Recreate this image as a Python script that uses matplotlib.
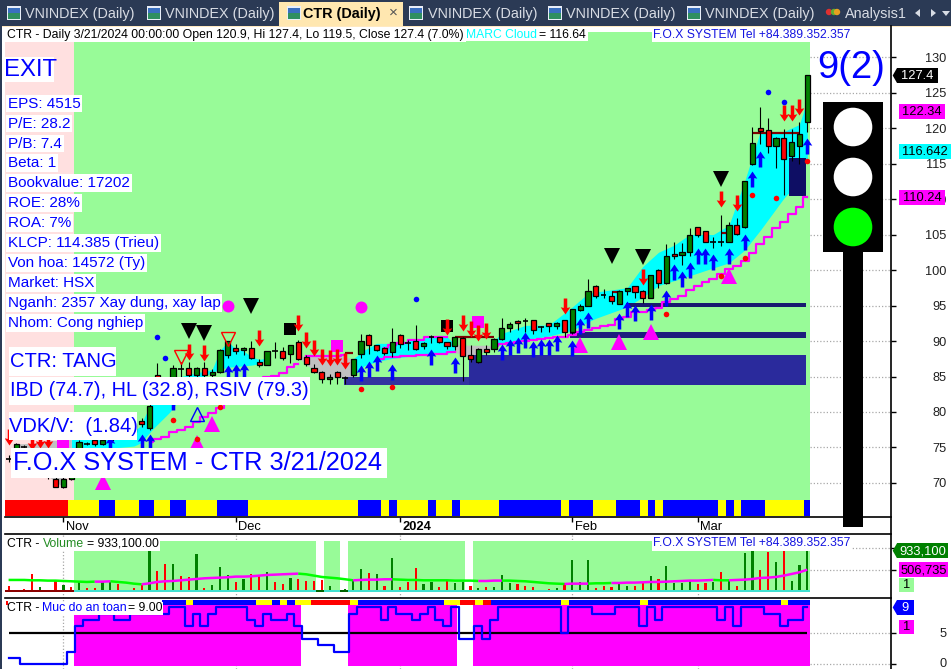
import numpy as np
import matplotlib
matplotlib.use("Agg")
import matplotlib.pyplot as plt
from matplotlib.patches import Rectangle, Circle, Polygon
from matplotlib.path import Path
from matplotlib.transforms import ScaledTranslation

plt.rcParams['font.family'] = ['Liberation Sans', 'DejaVu Sans']

W, H = 951, 669
N_BARS = 103
# ---------- price data, index 0 = newest bar, counting back ----------
open_back = [120.9,117.5,116.1,118.55,117.5,119.7,119.95,115.0,106.0,106.4,
 104.0,104.0,104.0,105.45,106.0,102.5,102.15,102.2,98.1,99.95,
 96.1,97.0,97.7,97.1,95.25,96.4,96.5,97.8,95.0,94.4,
 91.2,92.9,92.15,92.5,91.95,92.9,92.8,92.8,91.9,90.3,
 88.9,88.9,87.1,87.97,90.37,89.3,89.8,90.5,90.6,89.34,
 89.95,89.7,90.9,88.4,88.97,89.4,90.9,88.17,85.25,84.85,
 85.7,84.7,85.7,86.15,87.7,89.8,88.2,88.55,88.55,86.65,
 87.1,88.97,88.68,89.06,87.98,85.68,85.2,86.15,85.2,86.15,
 86.0,84.8,83.0,85.2,77.7,78.73,77.2,76.8,76.5,76.0,
 75.5,76.05,75.5,74.0,70.6,69.4,70.56,72.5,73.5,74.0,
 75.0,74.6,73.4]
close_back = [127.4,119.1,118.0,115.7,118.55,117.5,119.6,117.85,112.5,105.1,
 106.3,104.0,104.0,104.0,105.0,105.0,102.5,102.0,102.0,98.1,
 99.25,96.0,96.95,97.4,97.1,95.7,96.5,96.4,97.0,95.0,
 94.45,91.2,92.6,92.15,91.95,91.5,92.8,92.6,92.35,91.9,
 90.35,88.4,88.9,87.5,87.9,90.5,89.35,89.8,90.6,89.67,
 88.9,89.7,89.6,89.8,88.26,88.8,89.5,89.95,87.4,84.85,
 84.98,84.97,84.7,85.7,86.7,87.4,89.4,87.65,88.55,88.55,
 86.65,87.65,88.97,88.63,89.95,88.68,85.7,85.2,86.15,85.2,
 86.0,86.15,84.5,83.0,80.85,78.26,78.3,77.2,76.8,76.5,
 76.05,75.5,75.5,75.8,72.0,70.56,69.5,71.0,72.5,73.5,
 75.0,75.5,73.4]
high_back = [127.4,120.9,119.8,119.8,118.8,121.4,122.9,120.1,112.6,107.3,
 106.8,107.75,104.7,105.5,106.1,105.9,103.75,104.0,103.7,100.1,
 99.3,97.2,97.8,97.5,97.2,97.0,97.3,97.9,98.7,95.2,
 94.5,93.0,92.7,92.6,92.1,93.0,93.2,92.9,92.7,93.3,
 90.4,89.5,89.0,89.4,90.5,90.6,89.9,90.6,90.85,89.9,
 92.25,90.2,91.0,91.8,89.2,89.5,91.0,91.0,87.5,85.1,
 85.8,85.3,85.8,86.8,88.0,90.2,89.5,89.2,89.9,88.6,
 87.5,90.0,89.1,89.6,90.0,88.9,86.0,87.0,86.3,87.0,
 87.0,86.6,84.8,86.85,81.5,79.1,78.5,77.5,77.0,76.7,
 76.3,76.3,75.8,76.0,72.4,70.8,70.8,72.8,73.7,74.5,
 75.3,75.7,73.9]
low_back = [119.5,115.0,115.4,110.6,114.4,116.5,117.75,114.8,105.9,105.0,
 103.9,103.4,103.15,103.9,104.7,102.0,100.7,101.6,98.0,97.4,
 96.0,95.3,96.0,96.5,95.2,95.2,96.0,96.1,94.9,94.2,
 91.0,90.6,91.7,91.3,91.3,91.0,91.25,91.55,91.3,90.2,
 88.5,88.0,86.85,87.0,84.3,88.7,88.9,89.7,89.75,88.9,
 88.8,88.75,89.0,87.7,88.0,88.6,88.2,87.55,84.9,84.0,
 84.0,84.0,84.1,85.5,86.5,87.3,86.9,87.3,87.6,86.6,
 86.4,87.4,88.0,88.2,87.6,85.5,85.0,85.0,85.0,85.0,
 84.5,84.5,82.8,82.0,77.5,77.9,77.0,76.6,76.2,75.9,
 75.3,75.2,75.3,73.5,70.4,69.3,69.4,70.6,72.0,73.2,
 74.6,74.0,73.0]

# Cloud sections: bars back, upper, lower
cyan_a_back = [0,1,3,6,8,10,12,15,17,19,21,23,25,27,28,30,33,36,39,40]
cyan_a_up = [124,120.5,119.5,119.5,112.5,106.3,105,105,103.5,102.5,100.5,97.5,97.2,96.9,96.7,94.8,92.25,92.2,91.07,90.1]
cyan_a_lo = [115.7,112.5,110.1,105.6,102.8,101,100.3,99.2,98.5,97.8,96.2,94.8,94,93.2,92.7,91.5,90.7,90.2,89.5,89.2]
gray_a_back = [40,41,43,45]
gray_a_up = [89.3,89.4,89.4,89.5]
gray_a_lo = [89.2,88.7,87.6,88.4]
cyan_b_back = [45,46,48,50.5,53,55,56.6,58]
cyan_b_up = [89.5,90.6,90.6,90.1,89.67,89.67,88.7,87.5]
cyan_b_lo = [88.4,88.3,88,87.9,87.55,87.1,86.5,85]
gray_b_back = [58,60,62,63,64,65]
gray_b_up = [87.5,87.9,87.9,87.9,87.9,87.9]
gray_b_lo = [85,84.8,84.9,85.8,86.7,87.7]
cyan_c_back = [69,70,71,72,73,74,75,76,78,80,81.4,83.5,85.2,86,88,94]
cyan_c_up = [87.6,87.4,87.8,88.6,88.9,89.9,88.7,86,85.5,85,84,82,78,77.3,76.8,76.5]
cyan_c_lo = [87.5,86.8,86.6,86.5,86.4,86.3,86,85.6,84.5,82,80,77.7,75.6,75.2,75.0,74.6]
gray_c_back = [94,95,97,99,101]
gray_c_up = [76.5,76,76,75.6,75.5]
gray_c_lo = [74.6,69.4,71,73.5,74.2]

# Support stair lines
stair1_back = list(range(0, 41))
stair1 = [110.3,108.9,107.85,106.7,105.9,104.7,103.66,102.4,101.3,100.6,100.15,99.4,98.8,98.35,97.8,97.15,96.3,95.9,95.5,
          94.7,94.4,94.1,94.1,93.4,93.05,92.25,92.1,91.8,91.55,91.3,90.85,90.6,90.5,90.4,90.25,90.15,90,89.8,89.7,89.6,89.3]
stair2_back = [45,47,49,51,53,55]
stair2 = [88.4,88.2,88,87.9,87.7,87.5]
stair3_back = [46,48,50,52,53,54]
stair3 = [90.6,90.5,90.1,89.7,89.4,88.97]
stair4_back = [59,60,61,62,63,64]
stair4 = [88.0,87.9,87.9,87.9,87.9,87.9]
stair5_back = [65,66,67,68,69,70,71,72,73,74,75,76,77,78,79,80,81,82,83,84]
stair5 = [86.7,86.3,85.5,85.1,85,84.5,83.5,83,82.5,81.5,80.5,79.9,79.3,78.6,77.9,77.5,77.2,76.5,76.2,75.8]

# Signal marks: bars back, price
arrow_up_back = [0,6,7,8,10,12,13,14,15,16,17,18,20,22,23,24,28,29,30,32,33,34,35,36,37,38,39,45,48,53,55,56,57,72,73,74,81,84,85,89]
arrow_up = [117.5,115.7,112.8,103.9,102,101.1,102,102,99.95,98.7,99.7,96,94.1,94,94.45,92.85,92.95,92.15,88.97,89.7,89.2,89.2,88.9,90.2,89.5,89.2,88.4,86.67,87.7,85.7,86.85,86.1,85.45,85.8,85.7,85.5,81.45,75.8,75.8,75.5]
arrow_dn_back = [1,2,3,9,11,21,31,41,42,43,44,46,59,60,61,62,63,64,65,70,77,79,97,98,99,102]
arrow_dn = [123,122.1,122.1,109.5,110,99.05,95,91.35,91.15,91.65,92.5,92,87.15,87.8,87.55,87.8,88.96,90.2,92.5,90.4,88.26,88.5,76,76,75.8,76.5]
black_tri_back = [11,21,25,71,77,79]
black_tri = [112.8,101.9,101.97,95,91.1,91.35]
red_hollow_back = [74,80]
red_hollow = [90.3,87.7]
blue_hollow_back = [78]
blue_hollow = [79.7]
magenta_tri_back = [10,20,24,29,76,78,90]
magenta_tri = [99.15,91.2,89.85,89.4,78.3,75.6,70.2]
magenta_sq_back = [42,60,95]
magenta_sq = [92.67,89.3,75.35]
magenta_dot_back = [57,74]
magenta_dot = [94.85,95]
black_sq_back = [46,66]
black_sq = [92.1,91.7]
red_dot_back = [0,4,7,8,11,18,53,57,75,78,81]
red_dot = [115.4,110.2,110.6,101.75,99.2,93.85,83.5,83.3,80.65,76.2,78.9]
blue_dot_back = [3,5,50,82,83]
blue_dot = [123.6,125.1,95.9,87.65,90.6]
brown_from_back = [1,10,24,40,58]
brown_to_back = [7,11,25,45,59]
brown_price = [119.35,105.25,96.95,90.6,88.3]

# Support blocks in bar position / price
block_left = [42.87,58.8,71.7,78.85,99.67]
block_right = [58.8,101.84,101.84,101.84,101.84]
block_top = [85.0,88.0,91.3,95.4,115.8]
block_bottom = [83.8,83.8,90.4,94.8,110.4]
block_colors = ['#3333a0','#2a2a9c','#1e1e7d','#191970','#0e0e64']

# Colour band under prices
band_starts = [0,8,12,14,17,19,21,23,27,31,45,48,49,50,54,55,57,58,63,71,72,75,78,81,82,83,84,91,92,93,94,97,102]
band_colors = ['r','y','b','y','b','y','b','y','b','y','b','y','b','y','b','y','b','y','b','y','b','y','b','y','b','y','b','y','b','y','b','y','b']

# Volume (thousands)
volume = [142,52,67,411,120,52,247,157,112,247,
 97,97,247,232,187,30,97,157,927,479,
 636,636,366,344,860,90,164,568,389,232,
 299,404,389,456,232,187,322,299,262,254,
 277,142,52,67,277,523,434,411,142,770,
 120,232,546,187,232,120,277,209,232,142,
 90,127,120,389,217,187,150,120,52,75,
 97,202,725,232,725,97,142,120,232,142,
 142,232,366,299,591,209,209,277,187,209,
 232,456,277,142,882,927,501,905,680,927,
 254,613,933.1]
volume_kind = ("rrrrgrrgrg" "rrggrrrrgr" "rgrrgrgggr" "grrgrrgrrr" "rgrgggrgrg"
               "rrrggrrggr" "grgggrrrrr" "grgggrrrgg" "rrgrggggrr" "grgrggrrgr" "ggg")
volume_ma = [277,277,277,269,269,262,262,254,247,239,
 232,239,239,247,232,217,194,179,202,232,
 247,254,269,284,299,314,322,329,337,352,
 352,359,374,389,396,404,411,419,404,374,
 344,329,314,292,269,277,284,284,292,292,
 284,277,277,269,269,269,269,262,262,262,
 254,254,262,262,262,254,247,232,217,202,
 194,187,194,194,194,202,202,209,209,217,
 217,224,232,232,239,247,254,262,262,269,
 277,269,269,277,284,299,322,329,344,374,
 411,449,507]
ma_run_starts = [0,11,13,17,37,44,49,60,63,71,74,77,90,92]
ma_run_kind = ['g','m','g','m','g','m','g','m','g','m','g','m','g','m']

# Safety level, run starts and values
safety_starts = [0,2,8,9,10,12,14,16,21,23,24,25,26,27,31,32,33,34,36,37,38,40,42,44,45,48,49,50,52,53,54,55,56,57,58,60,61,62,63,71,72,75,78,81,82,83,84,91,92,93,94,97,99,100,102]
safety_levels = [1,0,2,6,7,8,7,8,9,6,8,6,8,9,7,6,8,7,8,6,4,3,2,8,9,7,9,8,7,8,9,7,6,9,4,6,4,7,9,5,9,8,9,6,9,7,9,7,9,6,9,8,6,7,9]
safety_band_starts = [20,23,24,32,34,35,36,37,39,44,45,56,58,60,61,62,71,72,81,82,99,100]
safety_band_colors = ['b','y','b','y','b','y','b','y','r','y','b','y','r','y','r','b','y','b','y','b','y','b']

price_ticks = [130,125,120,115,110,105,100,95,90,85,80,75,70]
month_ticks = [7,29,50,72,88]
month_labels = ['Nov','Dec','2024','Feb','Mar']

info_lines = ['EPS: 4515','P/E: 28.2','P/B: 7.4','Beta: 1','Bookvalue: 17202','ROE: 28%','ROA: 7%',
              'KLCP: 114.385 (Trieu)','Von hoa: 14572 (Ty)','Market: HSX','Nganh: 2357 Xay dung, xay lap','Nhom: Cong nghiep']
tabs = ['VNINDEX (Daily)','VNINDEX (Daily)','CTR (Daily)','VNINDEX (Daily)','VNINDEX (Daily)','VNINDEX (Daily)','Analysis1']

# ---------- layout ----------
BG_GREEN = '#98fb98'; PINK = '#ffe0e0'; MAG = '#ff00ff'; BLUE = '#0000ff'
PAL = {'r':'#ff0000','y':'#ffff00','b':'#0000ff'}
X0, XR = 5, 891
PX_PER_BAR, PX_BAR0 = 7.83, 8.6
XLIM = ((X0-PX_BAR0)/PX_PER_BAR, (XR-PX_BAR0)/PX_PER_BAR)
GRID_END = (810-PX_BAR0)/PX_PER_BAR

def back(lst):
    return 102-np.asarray(lst, dtype=float)

fig = plt.figure(figsize=(W/100, H/100), dpi=100, facecolor='white')

def pane(y0, y1, z):
    ax = fig.add_axes([X0/W, 1-y1/H, (XR-X0)/W, (y1-y0)/H], zorder=z)
    ax.set_xlim(*XLIM)
    ax.patch.set_alpha(0)
    for s in ax.spines.values():
        s.set_visible(False)
    ax.yaxis.tick_right()
    ax.set_axisbelow(True)
    return ax

main = pane(26, 517, 3)
vol = pane(534, 598, 2)
safe = pane(598, 669, 2)

GRID = dict(color='#a8a8a8', lw=0.9, ls=(0, (1, 1.6)))

def right_grid(ax, ticks):
    ax.hlines(ticks, GRID_END, XLIM[1], zorder=0.5, **{'color': GRID['color'], 'lw': GRID['lw'], 'linestyles': [GRID['ls']]})

def top_bottom_dots(ax):
    ax.xaxis.grid(True, **GRID)

# ---------- main pane ----------
main.set_ylim(65.21, 134.37)
TOPP, BANDT, BANDB = 133.52, 67.6, 65.35
main.add_patch(Rectangle((XLIM[0], BANDT), 8.35-XLIM[0], TOPP-BANDT, fc=PINK, ec='none', zorder=1))
main.add_patch(Rectangle((8.35, BANDT), GRID_END-8.35, TOPP-BANDT, fc=BG_GREEN, ec='none', zorder=1))
edges = [XLIM[0]] + [s-0.4 for s in band_starts[1:]] + [GRID_END]
for a, b, c in zip(edges[:-1], edges[1:], band_colors):
    main.add_patch(Rectangle((a, BANDB), b-a, BANDT-BANDB, fc=PAL[c], ec='none', zorder=1.5))

for bk, up, lo, col in [(cyan_a_back,cyan_a_up,cyan_a_lo,'#00ffff'),(gray_a_back,gray_a_up,gray_a_lo,'#c0c0c0'),
                        (cyan_b_back,cyan_b_up,cyan_b_lo,'#00ffff'),(gray_b_back,gray_b_up,gray_b_lo,'#c0c0c0'),
                        (cyan_c_back,cyan_c_up,cyan_c_lo,'#00ffff'),(gray_c_back,gray_c_up,gray_c_lo,'#c0c0c0')]:
    main.fill_between(back(bk), up, lo, color=col, lw=0, zorder=2)

for l, r, t, b, c in zip(block_left, block_right, block_top, block_bottom, block_colors):
    main.add_patch(Rectangle((l, b), r-l, t-b, fc=c, ec='none', zorder=2.5))

for bk, v in [(stair1_back,stair1),(stair2_back,stair2),(stair3_back,stair3),(stair4_back,stair4),(stair5_back,stair5)]:
    main.step(back(bk), v, where='mid', color=MAG, lw=1.6, zorder=3)
for a, b, p in zip(brown_from_back, brown_to_back, brown_price):
    main.plot(back([a, b]), [p, p], color='#800000', lw=1.6, zorder=3.2, solid_capstyle='butt')

# candles
xs = 102-np.arange(N_BARS)
main.vlines(xs, low_back, high_back, color='black', lw=0.8, zorder=4)
for x, o, c in zip(xs, open_back, close_back):
    if abs(o-c) < 0.12:
        main.plot([x-0.36, x+0.36], [c, c], color='black', lw=1.2, zorder=4.2, solid_capstyle='butt')
    else:
        main.bar(x, abs(c-o), bottom=min(o, c), width=0.66, fc='#008000' if c > o else '#ff0000',
                 ec='black', lw=0.9, zorder=4.2)

# signal marks
up_path = Path([(0,1),(0.6,0.1),(0.22,0.18),(0.22,-1),(-0.22,-1),(-0.22,0.18),(-0.6,0.1),(0,1)], closed=True)
dn_path = Path([(0,-1),(0.6,-0.1),(0.22,-0.18),(0.22,1),(-0.22,1),(-0.22,-0.18),(-0.6,-0.1),(0,-1)], closed=True)
main.plot(back(arrow_up_back), arrow_up, ls='', marker=up_path, ms=11.5, mfc=BLUE, mew=0, zorder=5)
main.plot(back(arrow_dn_back), arrow_dn, ls='', marker=dn_path, ms=11.5, mfc='#ff0000', mew=0, zorder=5)
main.plot(back(black_tri_back), black_tri, ls='', marker='v', ms=11, mfc='black', mew=0, zorder=5)
main.plot(back(red_hollow_back), red_hollow, ls='', marker='v', ms=9.5, mfc='none', mec='#ff0000', mew=1, zorder=5)
main.plot(back(blue_hollow_back), blue_hollow, ls='', marker='^', ms=9.5, mfc='none', mec=BLUE, mew=1, zorder=5)
main.plot(back(magenta_tri_back), magenta_tri, ls='', marker='^', ms=11, mfc=MAG, mew=0, zorder=4.6)
main.plot(back(magenta_sq_back), magenta_sq, ls='', marker='s', ms=8.6, mfc=MAG, mew=0, zorder=4.1)
main.plot(back(magenta_dot_back), magenta_dot, ls='', marker='o', ms=8.6, mfc=MAG, mew=0, zorder=4.1)
main.plot(back(black_sq_back), black_sq, ls='', marker='s', ms=8.6, mfc='black', mew=0, zorder=4.1)
main.plot(back(red_dot_back), red_dot, ls='', marker='o', ms=4, mfc='#ff0000', mew=0, zorder=5)
main.plot(back(blue_dot_back), blue_dot, ls='', marker='o', ms=4, mfc=BLUE, mew=0, zorder=5)

main.set_yticks(price_ticks)
main.set_yticklabels([str(t) for t in price_ticks], ha='right', fontsize=9.2, color='#202020')
main.tick_params(axis='y', length=3.6, width=1, pad=36.4, color='black')
right_grid(main, price_ticks)
main.set_xticks(month_ticks)
main.set_xticklabels(month_labels, ha='left', fontsize=9.3)
main.get_xticklabels()[2].set_fontweight('bold')
main.tick_params(axis='x', length=3.6, width=1, pad=0)
for lab in main.get_xticklabels():
    lab.set_transform(lab.get_transform() + ScaledTranslation(2/72, 1/72, fig.dpi_scale_trans))
main.spines['bottom'].set_visible(True)
main.spines['bottom'].set_linewidth(1.2)

# ---------- volume pane ----------
vol.set_ylim(-128, 1308)
VT, VS = 1150, 52
for a, b in [(8.35,39.26),(40.28,42.32),(43.34,58.29),(59.31,GRID_END)]:
    vol.add_patch(Rectangle((a, 0), b-a, VT, fc=BG_GREEN, ec='none', zorder=1))
ix = np.arange(N_BARS)
vcol = ['#008000' if k == 'g' else '#ff0000' for k in volume_kind]
vol.bar(ix, volume, width=0.28, color=vcol, lw=0, zorder=2)
for a, b, c in [(XLIM[0],8.35,'#8b0000'),(8.35,39.26,'#40e0d0'),(39.26,40.28,'#006400'),(40.28,42.32,'#40e0d0'),
                (42.32,43.34,'#006400'),(43.34,GRID_END,'#40e0d0')]:
    vol.add_patch(Rectangle((a, 0), b-a, VS, fc=c, ec='none', zorder=3))
ma_ends = ma_run_starts[1:] + [N_BARS-1]
for s, e, k in zip(ma_run_starts, ma_ends, ma_run_kind):
    vol.plot(ix[s:e+1], volume_ma[s:e+1], color=MAG if k == 'm' else '#00ff00', lw=1.8, zorder=4, solid_capstyle='butt')
vol.set_yticks([500, 1000])
vol.set_yticklabels(['', ''])
vol.tick_params(axis='y', length=3.6, width=1)
right_grid(vol, [500, 1000])
vol.set_xticks(month_ticks)
vol.set_xticklabels([])
vol.tick_params(axis='x', length=0)
top_bottom_dots(vol)
vol.spines['top'].set_visible(True)
vol.spines['top'].set_linewidth(1.2)
vol.spines['bottom'].set_visible(True)
vol.spines['bottom'].set_linewidth(1.2)

# ---------- safety pane ----------
safe.set_ylim(-0.74, 10.49)
for a, b in [(8.35,37.34),(43.34,57.27),(59.31,GRID_END)]:
    safe.add_patch(Rectangle((a, -0.27), b-a, 9.65, fc=MAG, ec='none', zorder=1))
ends = [s-0.4 for s in safety_band_starts[1:]] + [GRID_END]
for a, b, c in zip(safety_band_starts, ends, safety_band_colors):
    safe.add_patch(Rectangle((a-0.4, 9.38), b-a+0.4, 0.79, fc=PAL[c], ec='none', zorder=1.5))
safe.plot([0, 102], [5, 5], color='black', lw=1.6, zorder=2, solid_capstyle='butt')
level = np.repeat(safety_levels, np.diff(safety_starts+[N_BARS]))
safe.step(ix, level, where='mid', color=BLUE, lw=1.6, zorder=3)
safe.set_yticks([0, 5])
safe.set_yticklabels(['0', '5'], ha='right', fontsize=9.2, color='#202020')
safe.tick_params(axis='y', length=3.6, width=1, pad=36.4)
right_grid(safe, [0, 5])
zero_lab = safe.get_yticklabels()[0]
zero_lab.set_transform(zero_lab.get_transform() + ScaledTranslation(0, 1.5/72, fig.dpi_scale_trans))
safe.set_xticks(month_ticks)
safe.set_xticklabels([])
safe.tick_params(axis='x', length=0)
top_bottom_dots(safe)

# ---------- overlay in pixel coordinates ----------
fig.canvas.draw()
ov = fig.add_axes([0, 0, 1, 1], zorder=10)
ov.set_xlim(0, W); ov.set_ylim(H, 0); ov.axis('off'); ov.patch.set_alpha(0)

def py(ax, val):
    return H-ax.transData.transform((0, val))[1]

def box(x0, y0, x1, y1, fc, z=1):
    ov.add_patch(Rectangle((x0, y0), x1-x0, y1-y0, fc=fc, ec='none', zorder=z))

# chrome
DARK = '#2b3a55'
box(0, 0, W, 26, DARK, 1)
box(0, 26, 2, H, DARK, 1)
box(2, 26, W, 27, '#ffe9c0', 1)
box(279, 2, 403, 26, '#ffe7b0', 1.5)
tab_x = [25,165,303,428,566,705,845]
icon_x = [7,147,287,409,548,687]
for x, t in zip(tab_x, tabs):
    active = t.startswith('CTR')
    ov.text(x, 14, t, fontsize=10.4, color='black' if active else '#d8dce4', fontweight='bold' if active else 'normal',
            va='center', ha='left', zorder=3)
for x in icon_x:
    box(x, 6, x+14, 20, '#e8eef8', 2)
    box(x+1, 13, x+13, 19, '#2f8f60', 2.1)
    box(x+1, 8, x+13, 13, '#3a6fc0', 2.1)
ov.text(393, 12.5, '\u00d7', fontsize=11, color='#555555', ha='center', va='center', zorder=3)
for x, c in [(829,'#e03030'),(834,'#60b030'),(837,'#e8a020')]:
    ov.add_patch(Circle((x, 12), 3.2, fc=c, ec='none', zorder=2))
ov.add_patch(Polygon([(915,13),(920,9),(920,17)], fc='#d8dce4', ec='none', zorder=2))
ov.add_patch(Polygon([(936,13),(931,9),(931,17)], fc='#d8dce4', ec='none', zorder=2))
ov.add_patch(Polygon([(942,11),(950,11),(946,16)], fc='#d8dce4', ec='none', zorder=2))

# right axis line
ov.plot([XR, XR], [26, H], color='black', lw=1.2, zorder=1)

# traffic light
box(843, 250, 863, 527, 'black', 4)
box(823, 102, 883, 252, 'black', 4)
for cy, c in [(127,'white'),(177,'white'),(227,'#00ff00')]:
    ov.add_patch(Circle((853, cy), 19.3, fc=c, ec='none', zorder=5))
ov.text(851, 68, '9(2)', fontsize=27.5, color=BLUE, ha='center', va='center', zorder=6)

# labels
def label(x, y, t, fs, color=BLUE, pad=1.2, ha='left'):
    return ov.text(x, y, t, fontsize=fs, color=color, ha=ha, va='center', zorder=7,
                   bbox=dict(fc='white', ec='none', pad=pad))

def big_label(x, x0, x1, y0, y1, t, fs):
    box(x0, y0, x1, y1, 'white', 6)
    ov.text(x, (y0+y1)/2, t, fontsize=fs, color=BLUE, ha='left', va='center', zorder=7)

box(4, 57, 54, 82, 'white', 6)
ov.text(4.5, 69.5, 'EXIT', fontsize=17.2, color=BLUE, ha='left', va='center', zorder=7)
info_y = [103.5,123.5,143.5,163,183,203,223,243,263,283,303,323]
for y, t in zip(info_y, info_lines):
    label(8, y, t, 11)
big_label(9.5, 9, 116, 347, 376, 'CTR: TANG', 14.5)
big_label(10, 9, 310, 377, 405, 'IBD (74.7), HL (32.8), RSIV (79.3)', 14.3)
big_label(9, 8.5, 137, 412, 440, 'VDK/V:  (1.84)', 14.5)
big_label(13, 11, 387, 448, 478, 'F.O.X SYSTEM - CTR 3/21/2024', 18.3)

HDR = 8.85
box(5, 27, 466, 42, 'white', 6)
ov.text(7, 34.8, 'CTR - Daily 3/21/2024 00:00:00 Open 120.9, Hi 127.4, Lo 119.5, Close 127.4 (7.0%)', fontsize=HDR,
        ha='left', va='center', zorder=7)
box(466, 29.5, 588, 41, 'white', 6)
ov.text(466.5, 34.8, 'MARC Cloud', fontsize=8.7, color='#00ffff', ha='left', va='center', zorder=7)
ov.text(539, 34.8, '= 116.64', fontsize=HDR, ha='left', va='center', zorder=7)
label(653, 34.8, 'F.O.X SYSTEM Tel +84.389.352.357', 8.7, color='#1414e0', pad=1)
label(653, 543.3, 'F.O.X SYSTEM Tel +84.389.352.357', 8.7, color='#1414e0', pad=1)

box(5, 538, 160, 551, 'white', 6)
ov.text(7, 543.8, 'CTR - ', fontsize=HDR, ha='left', va='center', zorder=7)
ov.text(42.5, 543.8, 'Volume', fontsize=HDR, color='#228b22', ha='left', va='center', zorder=7)
ov.text(87, 543.8, '= 933,100.00', fontsize=HDR, ha='left', va='center', zorder=7)
box(6, 601.5, 163, 615, 'white', 6)
ov.text(7, 608, 'CTR - ', fontsize=HDR, ha='left', va='center', zorder=7)
ov.text(42.5, 608, 'Muc do an toan', fontsize=HDR, color=BLUE, ha='left', va='center', zorder=7)
ov.text(128, 608, '= 9.00', fontsize=HDR, ha='left', va='center', zorder=7)
box(5.5, 600.5, 7.5, 605, '#ff0000', 8)

# value tags (placed at the value through each pane's scale)
def vtag(ax, val, x1, text, fc, tc, arrow=False):
    yc = py(ax, val)
    x0 = 897 if arrow else 899
    box(x0, yc-7.5, x1, yc+7.5, fc, 6)
    if arrow:
        ov.add_patch(Polygon([(892.7, yc), (x0, yc-7.5), (x0, yc+7.5)], fc=fc, ec='none', zorder=6))
    ov.text(x0+(x1-x0)/2, yc+0.3, text, fontsize=9.3, color=tc, ha='center', va='center', zorder=7)

vtag(main, close_back[0], 938, '127.4', 'black', 'white', True)
vtag(main, 122.34, 945, '122.34', MAG, 'black')
vtag(main, 116.642, 951, '116.642', '#00ffff', 'black')
vtag(main, 110.24, 945, '110.24', MAG, 'black')
vtag(vol, 933.1, 948, '933,100', '#008000', 'white', True)
vtag(vol, 506.735, 948, '506,735', MAG, 'black')
box(899, 578, 914, 592, BG_GREEN, 6)
ov.text(906.5, 585, '1', fontsize=9.3, ha='center', va='center', zorder=7)
vtag(safe, 9, 914, '9', BLUE, 'white', True)
box(899, 620, 914, 634, MAG, 6)
ov.text(906.5, 627, '1', fontsize=9.3, ha='center', va='center', zorder=7)

fig.savefig('out.png', dpi=100)
